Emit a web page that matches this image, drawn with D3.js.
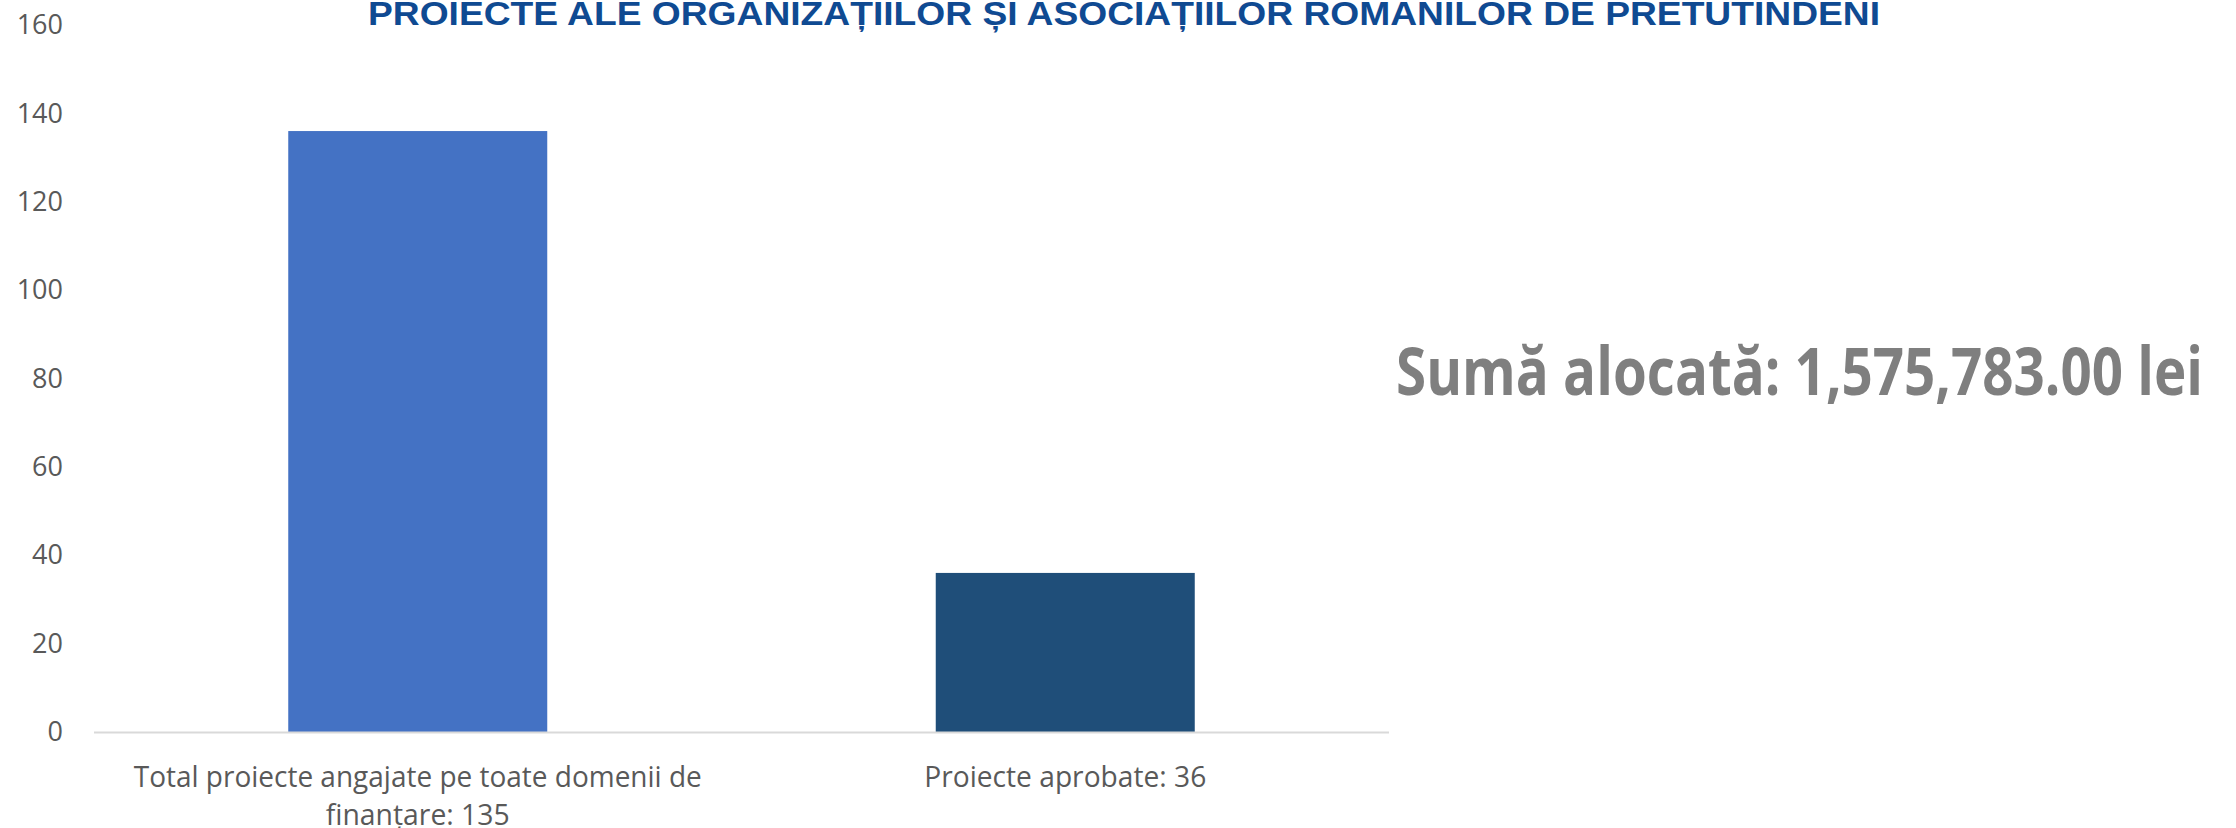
<!DOCTYPE html>
<html>
<head>
<meta charset="utf-8">
<script src="https://cdn.jsdelivr.net/npm/d3@7"></script>
<style>
  html, body { margin: 0; padding: 0; background: #fff; }
  svg { display: block; }
</style>
</head>
<body>
<script>
// chart data
const titleText = 'PROIECTE ALE ORGANIZAȚIILOR ȘI ASOCIAȚIILOR ROMANILOR DE PRETUTINDENI';
const categories = ['Total proiecte angajate pe toate domenii de finanțare: 135', 'Proiecte aprobate: 36'];
const categoryLines = [['Total proiecte angajate pe toate domenii de', 'finanțare: 135'], ['Proiecte aprobate: 36']];
const values = [136, 36];
const barColors = ['#4472c4', '#1f4e79'];
const yTicks = [0, 20, 40, 60, 80, 100, 120, 140, 160];
const noteText = 'Sumă alocată: 1,575,783.00 lei';

const width = 2236, height = 828;
const margin = { top: 25, left: 94, right: 847, bottom: 96 };

const svg = d3.select('body').append('svg')
  .attr('width', width)
  .attr('height', height);

const x = d3.scaleBand()
  .domain(categories)
  .range([margin.left, width - margin.right])
  .paddingInner(0.6)
  .paddingOuter(0.3);

const y = d3.scaleLinear()
  .domain([0, 160])
  .range([height - margin.bottom, margin.top]);

// title (its top is cut by the page edge, as in the source)
svg.append('text')
  .attr('x', 368)
  .attr('y', 25)
  .attr('textLength', 1512)
  .attr('lengthAdjust', 'spacingAndGlyphs')
  .style('font-family', '"Liberation Sans", Arial, sans-serif')
  .style('font-weight', 700)
  .style('font-size', '34px')
  .style('fill', '#0f4a92')
  .text(titleText);

// y axis labels only, no line
const yAxis = d3.axisLeft(y).tickValues(yTicks).tickSize(0).tickPadding(0);
const yg = svg.append('g')
  .attr('transform', `translate(63,0)`)
  .call(yAxis);
yg.select('.domain').remove();
yg.selectAll('text')
  .style('font-family', '"Open Sans", sans-serif')
  .style('font-size', '27px')
  .style('fill', '#595959');

// bars
svg.selectAll('rect.bar')
  .data(values)
  .enter().append('rect')
  .attr('class', 'bar')
  .attr('x', (d, i) => x(categories[i]))
  .attr('y', d => y(d))
  .attr('width', x.bandwidth())
  .attr('height', d => y(0) - y(d))
  .attr('fill', (d, i) => barColors[i]);

// baseline
svg.append('line')
  .attr('x1', margin.left)
  .attr('x2', width - margin.right)
  .attr('y1', y(0) + 0.5)
  .attr('y2', y(0) + 0.5)
  .attr('stroke', '#d9d9d9')
  .attr('stroke-width', 2);

// category labels
const lineWidths = [[568, 184], [282]];
categories.forEach((c, i) => {
  const cx = x(c) + x.bandwidth() / 2;
  categoryLines[i].forEach((ln, j) => {
    svg.append('text')
      .attr('x', cx)
      .attr('y', y(0) + 55 + j * 38)
      .attr('text-anchor', 'middle')
      .attr('textLength', lineWidths[i][j])
      .attr('lengthAdjust', 'spacingAndGlyphs')
      .style('font-family', '"Liberation Sans Narrow", "Open Sans", sans-serif')
      .style('font-size', '30px')
      .style('fill', '#595959')
      .text(ln);
  });
});

// allocated amount note
svg.append('text')
  .attr('x', 1396)
  .attr('y', 395)
  .attr('textLength', 807)
  .attr('lengthAdjust', 'spacingAndGlyphs')
  .style('font-family', '"Open Sans", sans-serif')
  .style('font-weight', 700)
  .style('font-size', '67px')
  .style('fill', '#7f7f7f')
  .text(noteText);
</script>
</body>
</html>
